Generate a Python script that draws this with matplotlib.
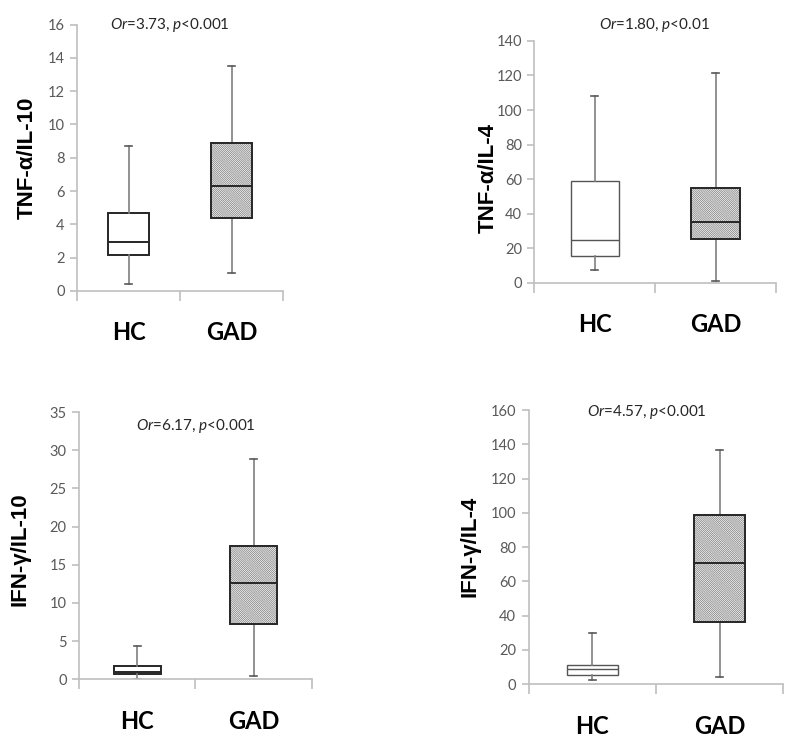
import matplotlib
matplotlib.use('Agg')
import matplotlib.pyplot as plt
from matplotlib.patches import PathPatch

plt.rcParams['font.family'] = ['Lato', 'DejaVu Sans']
plt.rcParams['mathtext.fontset'] = 'custom'
plt.rcParams['mathtext.rm'] = 'Lato'
plt.rcParams['mathtext.it'] = 'Lato:italic'
plt.rcParams['hatch.linewidth'] = 0.55

groups = ['HC', 'GAD']

# box stats per panel: [low whisker, Q1, median, Q3, high whisker]
tnf_il10 = [[0.4, 2.15, 2.95, 4.65, 8.7], [1.05, 4.4, 6.3, 8.9, 13.5]]
tnf_il4 = [[7.5, 15.5, 24.5, 59, 108], [1, 25.5, 35, 55, 121.5]]
ifn_il10 = [[0.1, 0.7, 1.0, 1.8, 4.3], [0.4, 7.2, 12.6, 17.5, 28.9]]
ifn_il4 = [[2.5, 5, 8.5, 11, 30], [4, 36.5, 71, 99, 137]]

ylabels = ['TNF-\u03b1/IL-10', 'TNF-\u03b1/IL-4', 'IFN-\u03b3/IL-10', 'IFN-\u03b3/IL-4']
ymax = [16, 140, 35, 160]
ystep = [2, 20, 5, 20]
notes = [r'$\mathit{Or}$=3.73, $\mathit{p}$<0.001',
         r'$\mathit{Or}$=1.80, $\mathit{p}$<0.01',
         r'$\mathit{Or}$=6.17, $\mathit{p}$<0.001',
         r'$\mathit{Or}$=4.57, $\mathit{p}$<0.001']

data = [tnf_il10, tnf_il4, ifn_il10, ifn_il4]

# layout (figure fractions) and text placement
positions = [[0.0963, 0.609, 0.2575, 0.358],
             [0.668, 0.620, 0.302, 0.325],
             [0.0988, 0.087, 0.291, 0.359],
             [0.661, 0.0806, 0.318, 0.368]]
note_xy = [(0.451, 1.0), (0.495, 1.066), (0.503, 0.95), (0.463, 0.994)]
ylab_xy = [(-0.243, 0.5), (-0.19, 0.433), (-0.254, 0.488), (-0.232, 0.501)]
hc_style = [('#262626', 1.4), ('#555555', 1.0), ('#262626', 1.4), ('#555555', 1.0)]

fig = plt.figure(figsize=(8, 7.44), dpi=100)

for i in range(4):
    ax = fig.add_axes(positions[i])
    stats = []
    for g, v in zip(groups, data[i]):
        stats.append(dict(label=g, whislo=v[0], q1=v[1], med=v[2], q3=v[3], whishi=v[4], fliers=[]))
    res = ax.bxp(stats, positions=[0, 1], widths=0.4, capwidths=0.06, patch_artist=True,
                 showfliers=False,
                 whiskerprops=dict(color='#7f7f7f', lw=1.2),
                 capprops=dict(color='#595959', lw=1.2))
    # HC box: plain white
    hc_col, hc_lw = hc_style[i]
    res['boxes'][0].set(facecolor='white', edgecolor=hc_col, lw=hc_lw)
    res['medians'][0].set(color=hc_col, lw=hc_lw)
    # GAD box: dense gray diagonal hatch, dark outline drawn on top
    gad = res['boxes'][1]
    gad.set(facecolor='white', edgecolor='#808080', lw=0, hatch='\\' * 16)
    ax.add_patch(PathPatch(gad.get_path(), facecolor='none', edgecolor='#262626', lw=1.4, zorder=gad.get_zorder() + 0.1))
    res['medians'][1].set(color='#262626', lw=1.4, zorder=gad.get_zorder() + 0.2)

    ax.set_xlim(-0.5, 1.5)
    ax.set_ylim(0, ymax[i])
    ax.set_yticks(range(0, ymax[i] + 1, ystep[i]))
    ax.tick_params(axis='y', colors='#bfbfbf', labelcolor='#595959', labelsize=10.5, length=5, width=1.2, pad=4)
    ax.set_xticks([0, 1])
    ax.set_xticklabels(groups, fontsize=17, fontweight='bold')
    ax.tick_params(axis='x', length=0, pad=22)
    ax.set_xticks([-0.5, 0.5, 1.5], minor=True)
    ax.tick_params(axis='x', which='minor', length=7, width=1.2, color='#bfbfbf')
    for s in ['top', 'right']:
        ax.spines[s].set_visible(False)
    for s in ['left', 'bottom']:
        ax.spines[s].set_color('#bfbfbf')
        ax.spines[s].set_linewidth(1.2)
    ax.set_ylabel(ylabels[i], fontsize=16, fontweight='bold', family='Liberation Sans', va='center')
    ax.yaxis.set_label_coords(*ylab_xy[i])
    ax.text(note_xy[i][0], note_xy[i][1], notes[i], transform=ax.transAxes,
            ha='center', va='center', fontsize=11, color='#262626')

plt.savefig('out.png', dpi=100)
